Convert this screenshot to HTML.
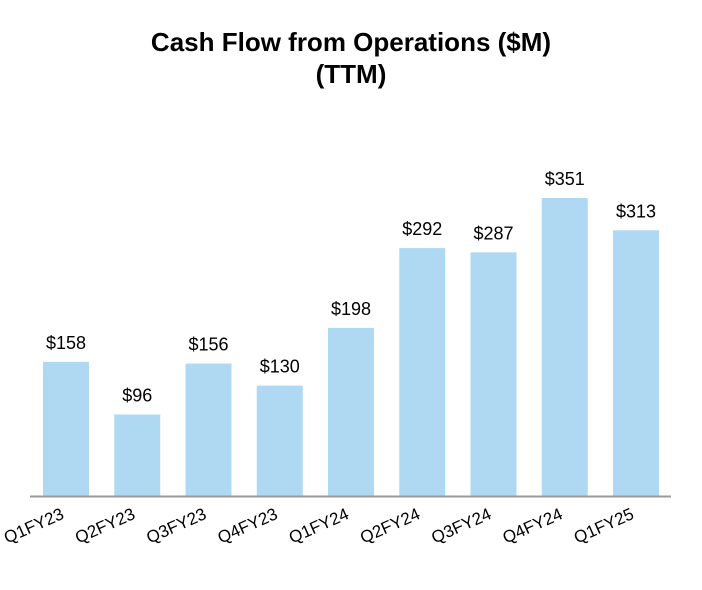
<!DOCTYPE html>
<html><head><meta charset="utf-8"><style>
html,body{margin:0;padding:0;background:#fff;}
svg{display:block;font-family:"Liberation Sans",Arial,sans-serif;}
</style></head><body>
<svg id="chart" width="702" height="590">
<text x="351" y="51" text-anchor="middle" font-size="26" font-weight="bold" fill="#000">Cash Flow from Operations ($M)</text>
<text x="351" y="83" text-anchor="middle" font-size="26" font-weight="bold" fill="#000">(TTM)</text>
<g id="bars"></g>
<line x1="30" y1="496.5" x2="671" y2="496.5" stroke="#9a9a9a" stroke-width="2"/>
</svg>
<script>
const categories = ["Q1FY23","Q2FY23","Q3FY23","Q4FY23","Q1FY24","Q2FY24","Q3FY24","Q4FY24","Q1FY25"];
const values = [158,96,156,130,198,292,287,351,313];
const valueLabels = ["$158","$96","$156","$130","$198","$292","$287","$351","$313"];

const NS = "http://www.w3.org/2000/svg";
const baseY = 496, pxPerUnit = 298/351;
const firstCenter = 66, step = 71.25, barW = 46;
const xScale = i => firstCenter + i*step;
const yScale = v => baseY - v*pxPerUnit;
const g = document.getElementById("bars");
categories.forEach((c,i)=>{
  const cx = xScale(i), top = yScale(values[i]);
  const r = document.createElementNS(NS,"rect");
  r.setAttribute("x", cx-barW/2); r.setAttribute("y", top);
  r.setAttribute("width", barW); r.setAttribute("height", baseY-top);
  r.setAttribute("fill","#afd9f3");
  
  
  g.appendChild(r);
  const t = document.createElementNS(NS,"text");
  t.setAttribute("x", cx); t.setAttribute("y", top-13);
  t.setAttribute("text-anchor","middle"); t.setAttribute("font-size","18"); t.setAttribute("fill","#000");
  t.textContent = valueLabels[i];
  
  
  g.appendChild(t);
  const l = document.createElementNS(NS,"text");
  const lx = cx-1, ly = 518;
  l.setAttribute("x", lx); l.setAttribute("y", ly);
  l.setAttribute("text-anchor","end"); l.setAttribute("font-size","17"); l.setAttribute("fill","#000");
  l.setAttribute("transform","rotate(-24 "+lx+" "+ly+")");
  l.textContent = c;
  
  
  g.appendChild(l);
});
</script>
</body></html>
